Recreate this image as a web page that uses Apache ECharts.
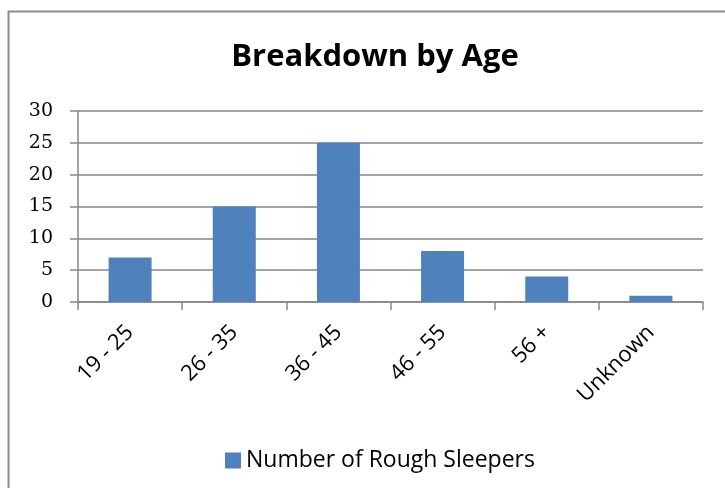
<!DOCTYPE html>
<html>
<head>
<meta charset="utf-8">
<script src="https://cdn.jsdelivr.net/npm/echarts@6/dist/echarts.min.js"></script>
<style>html,body{margin:0;padding:0;background:#fff}#c{width:725px;height:488px}</style>
</head>
<body>
<div id="c"></div>
<script>
const categories = ['19 - 25', '26 - 35', '36 - 45', '46 - 55', '56 +', 'Unknown'];
const roughSleepers = [7, 15, 25, 8, 4, 1];
const yTicks = [0, 5, 10, 15, 20, 25, 30];

const chart = echarts.init(document.getElementById('c'), null, {renderer: 'canvas'});
chart.setOption({
  animation: false,
  backgroundColor: '#fff',
  graphic: [{
    type: 'rect', shape: {x: 8.5, y: 11.5, width: 800, height: 600},
    style: {fill: 'none', stroke: '#8c8c8c', lineWidth: 2}, silent: true
  }],
  title: {
    text: 'Breakdown by Age', left: 370, top: 37, textAlign: 'center',
    textStyle: {fontFamily: 'Open Sans', fontWeight: 'bold', fontSize: 31, color: '#000'}
  },
  legend: {
    left: 220, top: 444, itemWidth: 16, itemHeight: 16, itemGap: 10,
    icon: 'rect',
    textStyle: {fontFamily: 'Open Sans', fontSize: 23, color: '#000', padding: [0, 0, 0, 0]},
    data: ['Number of Rough Sleepers']
  },
  grid: {left: 78, right: 22, top: 111, bottom: 186, containLabel: false},
  xAxis: {
    type: 'category', data: categories,
    axisLine: {lineStyle: {color: '#868686', width: 1.5}},
    axisTick: {show: true, length: 8, alignWithLabel: false, lineStyle: {color: '#868686', width: 1.5}},
    axisLabel: {rotate: 45, margin: 27, fontFamily: 'Open Sans', fontSize: 22, color: '#000', interval: 0}
  },
  yAxis: {
    type: 'value', min: yTicks[0], max: yTicks[yTicks.length - 1], interval: 5,
    axisLine: {show: true, lineStyle: {color: '#868686', width: 1.5}},
    axisTick: {show: true, length: 8, lineStyle: {color: '#868686', width: 1.5}},
    splitLine: {lineStyle: {color: '#868686', width: 1.5}},
    axisLabel: {margin: 25, fontFamily: 'DejaVu Serif', fontSize: 19, color: '#000'}
  },
  series: [{
    name: 'Number of Rough Sleepers', type: 'bar', data: roughSleepers,
    barWidth: 43, itemStyle: {color: '#4F81BD'}
  }]
});
</script>
</body>
</html>
